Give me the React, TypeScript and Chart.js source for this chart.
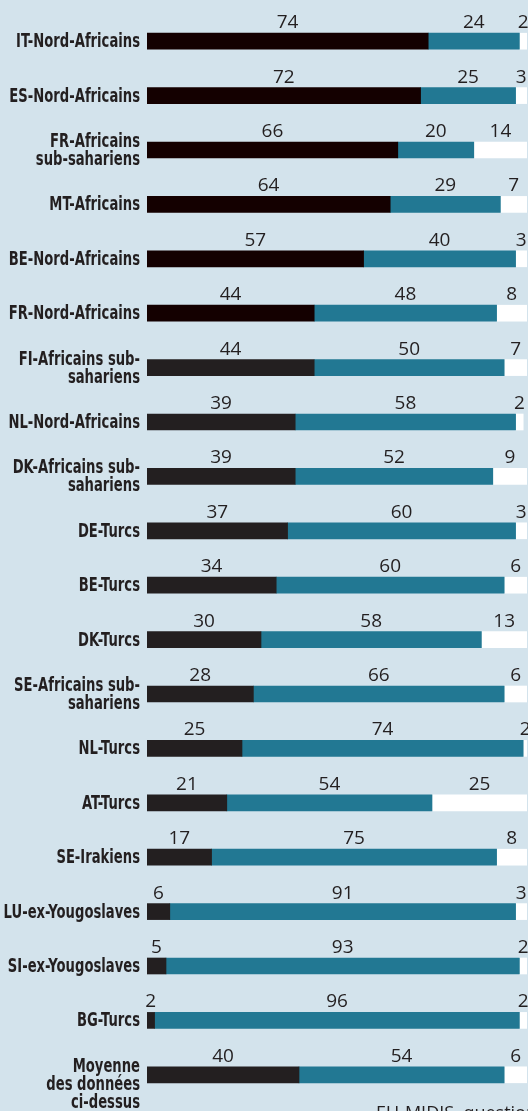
import React, { useEffect, useRef } from "react";
import { Chart, registerables } from "chart.js";

Chart.register(...registerables);

const categories: (string | string[])[] = [
  "IT-Nord-Africains",
  "ES-Nord-Africains",
  ["FR-Africains", "sub-sahariens"],
  "MT-Africains",
  "BE-Nord-Africains",
  "FR-Nord-Africains",
  ["FI-Africains sub-", "sahariens"],
  "NL-Nord-Africains",
  ["DK-Africains sub-", "sahariens"],
  "DE-Turcs",
  "BE-Turcs",
  "DK-Turcs",
  ["SE-Africains sub-", "sahariens"],
  "NL-Turcs",
  "AT-Turcs",
  "SE-Irakiens",
  "LU-ex-Yougoslaves",
  "SI-ex-Yougoslaves",
  "BG-Turcs",
  ["Moyenne", "des données", "ci-dessus"],
];

const seriesBlack = [74, 72, 66, 64, 57, 44, 44, 39, 39, 37, 34, 30, 28, 25, 21, 17, 6, 5, 2, 40];
const seriesTeal = [24, 25, 20, 29, 40, 48, 50, 58, 52, 60, 60, 58, 66, 74, 54, 75, 91, 93, 96, 54];
const seriesWhite = [2, 3, 14, 7, 3, 8, 7, 2, 9, 3, 6, 13, 6, 2, 25, 8, 3, 2, 2, 6];

const BG = "#d3e3ec";
const TEXT = "#231f20";
const blackColors = seriesBlack.map((_, i) => (i < 6 ? "#140000" : "#231f20"));

const valueLabels = {
  id: "valueLabels",
  afterDatasetsDraw(chart: any) {
    const ctx = chart.ctx;
    const area = chart.chartArea;
    ctx.save();
    ctx.font = '19px "Open Sans", "Noto Sans", sans-serif';
    ctx.fillStyle = TEXT;
    ctx.textAlign = "center";
    ctx.textBaseline = "alphabetic";
    chart.data.datasets.forEach((ds: any, di: number) => {
      const meta = chart.getDatasetMeta(di);
      meta.data.forEach((el: any, i: number) => {
        const p = el.getProps(["x", "base", "y"], true);
        const right = Math.min(p.x, area.right);
        const left = Math.max(p.base, area.left);
        const cx = (left + right) / 2;
        ctx.fillText(String(ds.data[i]), cx, p.y - 13);
      });
    });
    ctx.restore();
  },
};

// Category labels in a condensed bold face (drawn with horizontal compression)
const categoryLabels = {
  id: "categoryLabels",
  afterDraw(chart: any) {
    const ctx = chart.ctx;
    const yScale = chart.scales.y;
    const sx = 0.77;
    const rightX = yScale.right - 7;
    const lineH = 18;
    ctx.save();
    ctx.font = "bold 19px 'DejaVu Sans Condensed', 'DejaVu Sans', sans-serif";
    ctx.fillStyle = TEXT;
    ctx.textAlign = "right";
    ctx.textBaseline = "middle";
    ctx.scale(sx, 1);
    (chart.data.labels as any[]).forEach((lab: any, i: number) => {
      const lines: string[] = Array.isArray(lab) ? lab : [lab];
      const cy = yScale.getPixelForValue(i);
      const startY = lines.length > 1 ? cy - 9 : cy;
      lines.forEach((ln, k) => {
        ctx.fillText(ln, rightX / sx, startY + k * lineH + 1);
      });
    });
    ctx.restore();
  },
};

export default function App() {
  const ref = useRef<HTMLCanvasElement | null>(null);

  useEffect(() => {
    document.body.style.margin = "0";
    document.body.style.background = BG;
    const canvas = ref.current;
    if (!canvas) return;
    const chart = new Chart(canvas, {
      type: "bar",
      data: {
        labels: categories as any,
        datasets: [
          { data: seriesBlack, backgroundColor: blackColors, barThickness: 16 },
          { data: seriesTeal, backgroundColor: "#227893", barThickness: 16 },
          { data: seriesWhite, backgroundColor: "#ffffff", barThickness: 16 },
        ],
      },
      options: {
        indexAxis: "y",
        animation: false,
        responsive: false,
        maintainAspectRatio: false,
        layout: { padding: { top: 14, bottom: 9, left: 0, right: 1 } },
        plugins: { legend: { display: false }, tooltip: { enabled: false } },
        scales: {
          x: {
            stacked: true,
            min: 0,
            max: 100,
            display: false,
          },
          y: {
            stacked: true,
            grid: { display: false, drawTicks: false },
            border: { display: false },
            ticks: { display: false },
            afterFit(scale: any) {
              scale.width = 147;
              scale.paddingTop = 0;
              scale.paddingBottom = 0;
            },
          },
        },
      },
      plugins: [valueLabels, categoryLabels],
    });
    return () => chart.destroy();
  }, []);

  return (
    <div style={{ position: "relative", width: 528, height: 1111, overflow: "hidden", background: BG }}>
      <canvas ref={ref} width={528} height={1111} style={{ position: "absolute", left: 0, top: 0 }} />
      <div
        style={{
          position: "absolute",
          left: 376,
          top: 1100,
          font: '18px "Open Sans", "Noto Sans", sans-serif',
          color: TEXT,
          whiteSpace: "nowrap",
        }}
      >
        EU-MIDIS, question
      </div>
    </div>
  );
}
